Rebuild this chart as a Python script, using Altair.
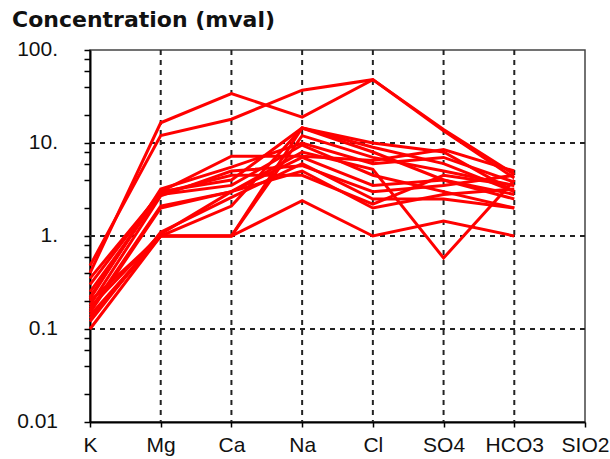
import altair as alt
import pandas as pd

ions = ["K", "Mg", "Ca", "Na", "Cl", "SO4", "HCO3", "SIO2"]
measured = ["K", "Mg", "Ca", "Na", "Cl", "SO4", "HCO3"]

# concentration (mval) per sample, in the order of `measured`
s01 = [0.40, 16.5, 34.0, 19.0, 48.0, 14.0, 4.6]
s02 = [0.48, 12.0, 18.0, 37.0, 48.0, 13.5, 4.2]
s03 = [0.10, 1.0, 1.0, 14.5, 10.0, 8.0, 3.0]
s04 = [0.14, 1.0, 1.0, 12.0, 7.0, 5.0, 3.5]
s05 = [0.20, 1.0, 1.0, 2.4, 1.0, 1.45, 1.0]
s06 = [0.13, 1.0, 2.1, 14.5, 8.0, 4.0, 2.5]
s07 = [0.15, 2.0, 3.0, 8.0, 5.2, 0.58, 4.0]
s08 = [0.30, 3.0, 4.0, 14.5, 9.0, 6.0, 3.0]
s09 = [0.22, 3.0, 7.2, 7.2, 6.5, 8.5, 5.0]
s10 = [0.18, 2.7, 5.0, 5.7, 3.0, 3.5, 4.5]
s11 = [0.25, 2.8, 3.5, 9.5, 4.5, 3.0, 2.0]
s12 = [0.16, 2.1, 3.0, 5.0, 2.0, 2.8, 3.2]
s13 = [0.12, 1.1, 2.6, 6.0, 2.5, 2.5, 2.0]
s14 = [0.21, 3.2, 5.5, 10.0, 6.0, 7.0, 3.8]
s15 = [0.35, 2.9, 4.5, 4.5, 2.2, 4.5, 3.5]
s16 = [0.17, 1.05, 3.0, 7.0, 3.5, 4.0, 2.8]
samples = [s01, s02, s03, s04, s05, s06, s07, s08, s09, s10, s11, s12, s13, s14, s15, s16]

y_ticks = [0.01, 0.02, 0.04, 0.06, 0.08, 0.1, 0.2, 0.4, 0.6, 0.8,
           1, 2, 4, 6, 8, 10, 20, 40, 60, 80, 100]
y_label_values = [0.01, 0.1, 1, 10, 100]
y_label_texts = ["0.01", "0.1", "1.", "10.", "100."]
h_grid = [0.1, 1, 10]
v_grid = ["Mg", "Ca", "Na", "Cl", "SO4", "HCO3"]
title_text = "Concentration (mval)"

rows = []
for si, s in enumerate(samples):
    for ii, (ion, v) in enumerate(zip(measured, s)):
        rows.append({"sample": f"s{si+1}", "ion": ion, "idx": ii, "value": v})
df = pd.DataFrame(rows)

FONT = "Liberation Sans"
xscale = alt.Scale(domain=ions, type="point", padding=0)
yscale = alt.Scale(type="log", domain=[0.01, 100], nice=False)

xaxis = alt.Axis(title=None, labelFont=FONT, labelFontSize=21, labelColor="#111",
                 domainColor="#000", domainWidth=2, tickColor="#000", tickWidth=1.5,
                 tickSize=5, labelPadding=7, grid=False, labelAngle=0)
yaxis = alt.Axis(title=None, values=y_ticks, labels=False,
                 domainColor="#000", domainWidth=2,
                 tickColor="#000", tickWidth=1.5, tickSize=6, grid=False)

X = alt.X("ion:N", scale=xscale, axis=xaxis, sort=ions)
Y = alt.Y("value:Q", scale=yscale, axis=yaxis)

hgrid = alt.Chart(pd.DataFrame({"value": h_grid})).mark_rule(
    color="#222", strokeDash=[5, 5], strokeWidth=2).encode(y=Y)
vgrid = alt.Chart(pd.DataFrame({"ion": v_grid})).mark_rule(
    color="#222", strokeDash=[5, 5], strokeWidth=2).encode(x=X)

lines = alt.Chart(df).mark_line(color="#ff0000", strokeWidth=3).encode(
    x=X, y=Y, detail="sample:N", order="idx:Q")

ylabels = alt.Chart(pd.DataFrame({"value": y_label_values, "label": y_label_texts})).mark_text(
    font=FONT, fontSize=21, align="right", baseline="middle", color="#111").encode(
    y=Y, x=alt.value(-32), text="label:N")

title = alt.Chart(pd.DataFrame({"t": [title_text]})).mark_text(
    font="DejaVu Sans", fontWeight="bold", fontSize=22, align="left",
    baseline="alphabetic", color="#111").encode(
    text="t:N", x=alt.value(-78), y=alt.value(-23))

chart = alt.layer(hgrid, vgrid, lines, ylabels, title).properties(
    width=495, height=372,
    autosize=alt.AutoSizeParams(type="none"),
    padding={"left": 90, "top": 50, "right": 25, "bottom": 37},
    background="white",
).configure_view(stroke="#444", strokeWidth=1.5)

chart.save("out.html", embed_options={"renderer": "svg", "actions": False})
